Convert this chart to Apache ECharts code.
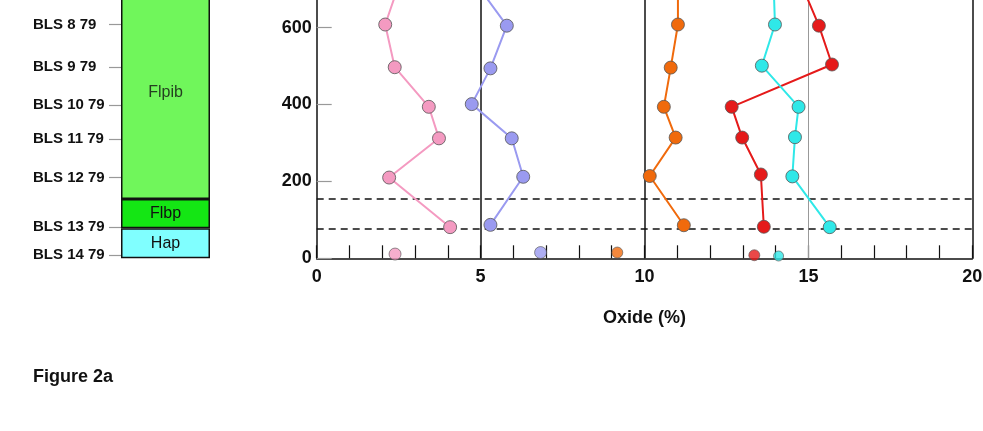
<!DOCTYPE html>
<html>
<head>
<meta charset="utf-8">
<script src="https://cdn.jsdelivr.net/npm/echarts@6/dist/echarts.min.js"></script>
<style>
html,body{margin:0;padding:0;background:#fff;}
#chart{width:983px;height:431px;}
</style>
</head>
<body>
<div id="chart"></div>
<script>
// ---- data ----
var sampleNames = ['BLS 8 79','BLS 9 79','BLS 10 79','BLS 11 79','BLS 12 79','BLS 13 79','BLS 14 79'];
var sampleDepths = [608, 497, 398, 310, 210, 81, 8];

var unitNames = ['Hap','Flbp','Flpib'];
var unitThickness = [78, 76, 846]; // stacked from depth 0
var flpibLabelDepth = 430;

var pinkX   = [2.5, 2.09, 2.38, 3.42, 3.73, 2.21, 4.07];
var pinkD   = [710, 608, 497, 394, 312, 210, 81];
var blueX   = [4.9, 5.80, 5.30, 4.73, 5.95, 6.30, 5.30];
var blueD   = [710, 605, 494, 401, 312, 212, 87];
var orangeX = [11.02, 11.02, 10.80, 10.59, 10.95, 10.16, 11.20];
var orangeD = [710, 608, 496, 394, 314, 214, 86];
var redX    = [14.8, 15.32, 15.72, 12.66, 12.98, 13.55, 13.64];
var redD    = [710, 605, 504, 394, 314, 218, 82];
var cyanX   = [13.94, 13.98, 13.58, 14.70, 14.59, 14.51, 15.65];
var cyanD   = [710, 608, 501, 394, 315, 213, 81];

var bottomX = [2.39, 6.83, 9.17, 13.35, 14.09];
var bottomD = [11, 15, 15, 8, 6];

var boundaryDepths = [154, 78];
var xTickLabels = [0, 5, 10, 15, 20];
var yTickLabels = [0, 200, 400, 600];

// ---- styles ----
var FONT = 'Liberation Sans';
var colors = {pink:'#f49ac1', blue:'#9a9af0', orange:'#f06a0c', red:'#e51a1a', cyan:'#2fe8e8'};
var bottomColors = [colors.pink, colors.blue, colors.orange, colors.red, colors.cyan];
var bottomSizes = [12, 12, 11, 11, 10];
var unitColors = ['#80ffff', '#14e614', '#70f65b'];

function pairs(xs, ds){ return xs.map(function(x,i){ return [x, ds[i]]; }); }

function lineSeries(name, xs, ds, color){
  return {
    type:'line', name:name, xAxisIndex:1, yAxisIndex:1,
    data: pairs(xs, ds),
    symbol:'circle', symbolSize:13,
    lineStyle:{color:color, width:2},
    itemStyle:{color:color, borderColor:'#555', borderWidth:0.8},
    z:5, animation:false
  };
}

var gridTop = -49.3, gridBottom = 172.7;

var option = {
  animation:false,
  backgroundColor:'#fff',
  textStyle:{fontFamily:FONT},
  grid:[
    {left:121, width:89, top:gridTop, bottom:gridBottom, outerBoundsMode:'none', containLabel:false},
    {left:316.7, right:10.7, top:gridTop, bottom:gridBottom, outerBoundsMode:'none', containLabel:false}
  ],
  xAxis:[
    {gridIndex:0, type:'category', data:['col'], show:false},
    {gridIndex:1, type:'value', min:0, max:20, interval:1,
     axisLine:{show:true, lineStyle:{color:'#111', width:1.5}},
     axisTick:{show:true, inside:true, length:13, lineStyle:{color:'#111', width:1.2}},
     axisLabel:{fontSize:18, fontWeight:'bold', color:'#111', margin:10, fontFamily:FONT,
       formatter:function(v){ return xTickLabels.indexOf(v) >= 0 ? String(v) : ''; }},
     splitLine:{show:false},
     name:'Oxide (%)', nameLocation:'middle', nameGap:51,
     nameTextStyle:{fontSize:18, fontWeight:'bold', color:'#111', fontFamily:FONT}
    }
  ],
  yAxis:[
    {gridIndex:0, type:'value', min:0, max:800,
     axisLine:{show:false},
     splitLine:{show:false},
     axisTick:{show:true, inside:false, length:12, lineStyle:{color:'#999', width:1.2}, customValues:sampleDepths},
     axisLabel:{show:true, align:'left', margin:88, fontSize:15, fontWeight:'bold', color:'#111', fontFamily:FONT,
       customValues:sampleDepths,
       formatter:function(v){ var i = sampleDepths.indexOf(v); return i >= 0 ? sampleNames[i] : ''; }}
    },
    {gridIndex:1, type:'value', min:0, max:800, interval:200, position:'left',
     axisLine:{show:true, lineStyle:{color:'#111', width:1.5}},
     axisTick:{show:true, inside:true, length:15, lineStyle:{color:'#999', width:1.2}},
     axisLabel:{fontSize:18, fontWeight:'bold', color:'#111', margin:5, fontFamily:FONT,
       formatter:function(v){ return yTickLabels.indexOf(v) >= 0 ? String(v) : ''; }},
     splitLine:{show:false}
    },
    {gridIndex:1, type:'value', min:0, max:800, position:'right',
     axisLine:{show:true, onZero:false, lineStyle:{color:'#111', width:1.5}},
     axisTick:{show:false}, axisLabel:{show:false}, splitLine:{show:false}
    }
  ],
  graphic:[
    {type:'text', left:33, top:368, style:{text:'Figure 2a', font:'bold 18px "Liberation Sans"', fill:'#111'}}
  ],
  series:[]
};

// stratigraphic column
unitNames.forEach(function(n, i){
  option.series.push({
    type:'bar', name:n, xAxisIndex:0, yAxisIndex:0, stack:'col',
    data:[unitThickness[i]], barWidth:'100%',
    itemStyle:{color:unitColors[i], borderColor:'#111', borderWidth:1.5},
    label:{show: n !== 'Flpib', position:'inside', formatter:n, fontSize:16, color:'#111', fontFamily:FONT},
    animation:false
  });
});
option.series.push({
  type:'scatter', xAxisIndex:0, yAxisIndex:0, symbolSize:0,
  data:[[0, flpibLabelDepth]],
  label:{show:true, position:'inside', formatter:'Flpib', fontSize:16, color:'#111', fontFamily:FONT},
  z:10, silent:true
});

// reference lines
option.series.push({
  type:'line', xAxisIndex:1, yAxisIndex:1, data:[], silent:true,
  markLine:{
    symbol:'none', silent:true, label:{show:false}, animation:false,
    data:[
      {xAxis:5, lineStyle:{color:'#111', width:1.5, type:'solid'}},
      {xAxis:10, lineStyle:{color:'#111', width:1.5, type:'solid'}},
      {xAxis:15, lineStyle:{color:'#999', width:1, type:'solid'}},
      {yAxis:boundaryDepths[0], lineStyle:{color:'#111', width:1.5, type:[7,5]}},
      {yAxis:boundaryDepths[1], lineStyle:{color:'#111', width:1.5, type:[7,5]}}
    ]
  }
});

option.series.push(lineSeries('pink', pinkX, pinkD, colors.pink));
option.series.push(lineSeries('blue', blueX, blueD, colors.blue));
option.series.push(lineSeries('orange', orangeX, orangeD, colors.orange));
option.series.push(lineSeries('red', redX, redD, colors.red));
option.series.push(lineSeries('cyan', cyanX, cyanD, colors.cyan));

option.series.push({
  type:'scatter', xAxisIndex:1, yAxisIndex:1, z:6,
  data: bottomX.map(function(x,i){
    return {value:[x, bottomD[i]], symbolSize:bottomSizes[i],
      itemStyle:{color:bottomColors[i], borderColor:'#555', borderWidth:0.8}};
  })
});

var chart = echarts.init(document.getElementById('chart'), null, {renderer:'canvas'});
chart.setOption(option);
</script>
</body>
</html>
